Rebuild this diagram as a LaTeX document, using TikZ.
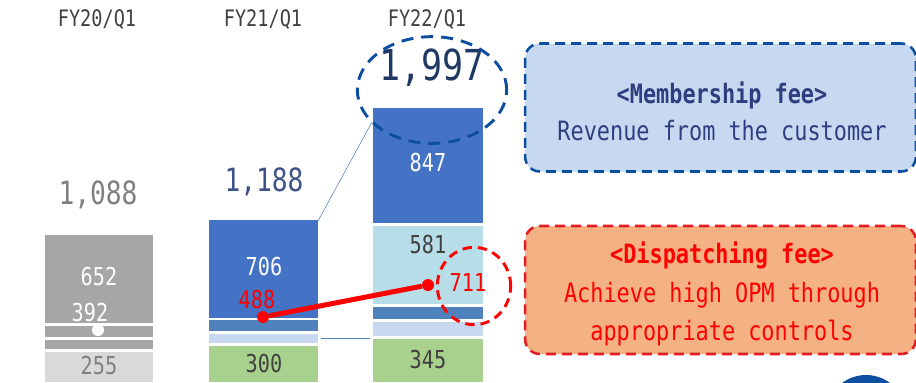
\documentclass[tikz,border=0pt]{standalone}
\usepackage{fontspec}
\setmainfont{DejaVu Sans Mono}[FakeStretch=0.82]
\definecolor{bargray}{HTML}{A6A6A6}
\definecolor{barlgray}{HTML}{D9D9D9}
\definecolor{barblue}{HTML}{4472C4}
\definecolor{barsteel}{HTML}{4F81BD}
\definecolor{barlblue}{HTML}{C6D9F0}
\definecolor{bargreen}{HTML}{A9D18E}
\definecolor{barcyan}{HTML}{B7DEE8}
\definecolor{txtgray}{HTML}{404040}
\definecolor{navy}{HTML}{1F3864}
\definecolor{slateblue}{HTML}{3D5288}
\definecolor{boxblue}{HTML}{0D4EA0}
\definecolor{boxtxt}{HTML}{2F3E80}
\definecolor{boxorange}{HTML}{F4B183}
\definecolor{boxred}{HTML}{E31B23}

\begin{document}
\begin{tikzpicture}[x=0.75pt,y=-0.75pt,
    headtxt/.style={text=txtgray,font=\fontsize{17}{20}\selectfont},
    numtxt/.style={font=\fontsize{18.5}{20}\selectfont},
    totaltxt/.style={font=\fontsize{24}{28}\selectfont},
    dotnode/.style={shape=circle,inner sep=0pt,minimum size=9pt},
    feebox/.style={rounded corners=11pt,dashed,dash pattern=on 7.5pt off 4.5pt,
      line width=1.9pt,minimum width=293pt,minimum height=96pt}]
  \useasboundingbox (0,0) rectangle (916,382) ;
  \clip (0,0) rectangle (916,382) ;
  % quarter headers
  \node[headtxt] (h20) at (97,20) {FY20/Q1} ;
  \node[headtxt] (h21) at (263,20) {FY21/Q1} ;
  \node[headtxt] (h22) at (427,20) {FY22/Q1} ;
  % FY20/Q1 bar
  \fill[bargray] (45,235) rectangle (153,323) ;
  \fill[bargray] (45,326) rectangle (153,337) ;
  \fill[bargray] (45,340) rectangle (153,349) ;
  \fill[barlgray] (45,352) rectangle (153,382) ;
  \node[totaltxt,text=gray] (t20) at (98,195) {1,088} ;
  \node[numtxt,text=white] (n652) at (99,277) {652} ;
  \node[numtxt,text=white] (n392) at (90,313) {392} ;
  \node[numtxt,text=gray] (n255) at (99,366) {255} ;
  \node[dotnode,fill=white] (d392) at (98,330) {} ;
  % FY21/Q1 bar
  \fill[barblue] (209,220) rectangle (318,318) ;
  \fill[barsteel] (209,320) rectangle (318,331) ;
  \fill[barlblue] (209,334) rectangle (318,343) ;
  \fill[bargreen] (209,346) rectangle (318,382) ;
  \node[totaltxt,text=slateblue] (t21) at (264,182) {1,188} ;
  \node[numtxt,text=white] (n706) at (264,267) {706} ;
  \node[numtxt,text=red] (n488) at (257,300) {488} ;
  \node[numtxt,text=txtgray] (n300) at (264,364) {300} ;
  % FY22/Q1 bar
  \fill[barblue] (373,108) rectangle (483,223) ;
  \fill[barcyan] (373,226) rectangle (483,304) ;
  \fill[barsteel] (373,307) rectangle (483,319) ;
  \fill[barlblue] (373,322) rectangle (483,336) ;
  \fill[bargreen] (373,339) rectangle (483,382) ;
  \node[font=\fontsize{32}{36}\selectfont,text=navy] (t22) at (432,68) {1,997} ;
  \node[numtxt,text=white] (n847) at (428,163) {847} ;
  \node[numtxt,text=txtgray] (n581) at (428,245) {581} ;
  \node[numtxt,text=red] (n711) at (468,283) {711} ;
  \node[numtxt,text=txtgray] (n345) at (428,360) {345} ;
  % thin links between bars
  \coordinate (c21top) at (318,221) ;
  \coordinate (c22top) at (372,122) ;
  \coordinate (c21low) at (321,338) ;
  \coordinate (c22low) at (370,338) ;
  \draw[barsteel,thin] (c21top) -- (c22top) ;
  \draw[barsteel,thin] (c21low) -- (c22low) ;
  % dispatching fee trend
  \node[dotnode,fill=red] (d488) at (263,317) {} ;
  \node[dotnode,fill=red] (d711) at (428,285) {} ;
  \draw[red,line width=3.75pt] (d488) -- (d711) ;
  % highlight rings
  \draw[boxblue,line width=2.2pt,dash pattern=on 9pt off 6pt] %
    (432,90) ellipse [x radius=56pt, y radius=40pt] ;
  \draw[red,line width=2.2pt,dash pattern=on 7pt off 4.5pt] %
    (474,286) ellipse [x radius=27.5pt, y radius=29pt] ;
  % fee boxes
  \node[feebox,draw=boxblue,fill=barlblue] (member) at (720.5,107.5) {} ;
  \node[align=center,text=boxtxt,font=\fontsize{20}{27.75}\selectfont] %
    (membertxt) at (722,111) {\textbf{<Membership fee>}\\Revenue from the customer} ;
  \node[feebox,draw=boxred,fill=boxorange] (dispatch) at (720.5,290) {} ;
  \node[align=center,text=red,font=\fontsize{20}{28.9}\selectfont] %
    (dispatchtxt) at (722,294) {\textbf{<Dispatching fee>}\\Achieve high OPM through\\appropriate controls} ;
  \fill[boxblue] (866,415) circle[radius=30pt] ;
\end{tikzpicture}
\end{document}
